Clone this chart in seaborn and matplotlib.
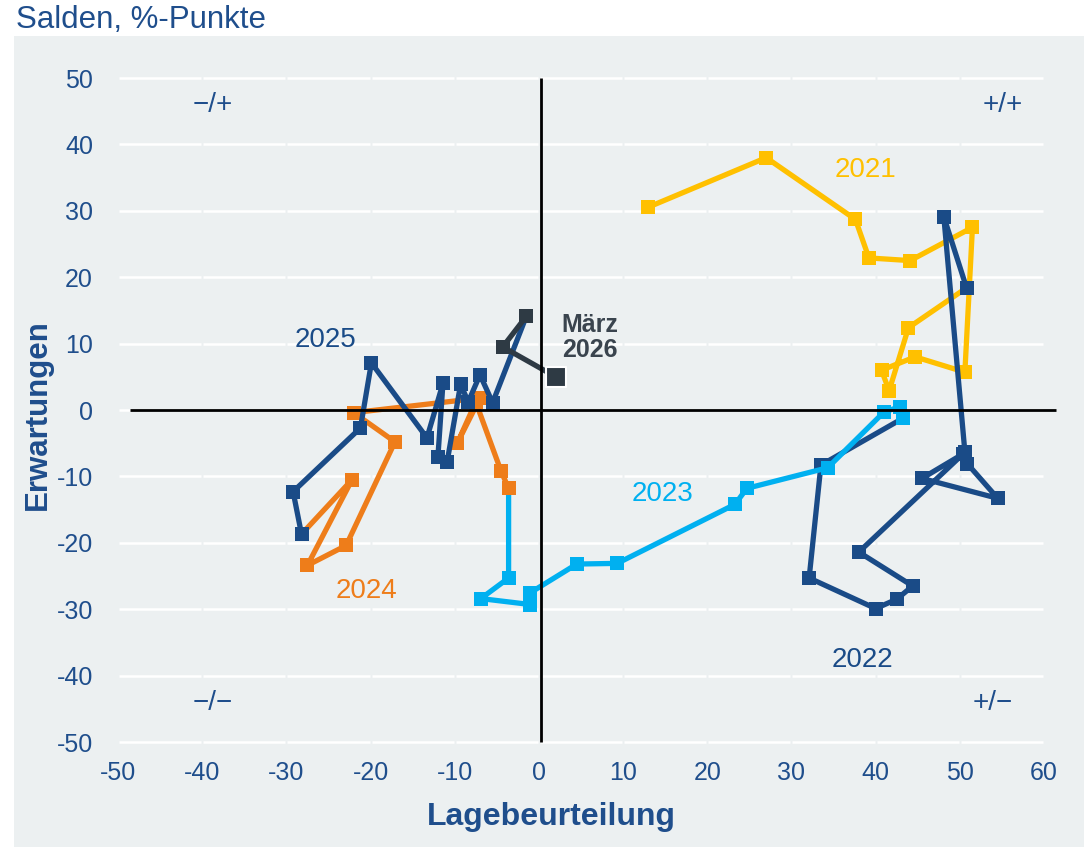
import matplotlib
matplotlib.use("Agg")
import numpy as np
import pandas as pd
import seaborn as sns
from matplotlib import pyplot as plt
from matplotlib.patches import Rectangle

## DATA ##
# Lagebeurteilung (x) und Erwartungen (y), Salden in %-Punkten
lage_2021 = [12.9, 27.0, 37.6, 39.2, 44.1, 51.5, 50.6, 44.7, 40.7, 41.6, 43.9, 50.8]
erw_2021 = [30.5, 38.0, 28.7, 22.9, 22.5, 27.5, 5.7, 8.0, 6.0, 2.9, 12.4, 18.4]

lage_2022 = [50.8, 48.1, 50.6, 50.9, 54.5, 45.5, 50.4, 38.0, 44.4, 42.5, 40.0, 32.1, 33.5, 43.3]
erw_2022 = [18.4, 29.1, -6.3, -8.1, -13.3, -10.3, -6.6, -21.4, -26.5, -28.5, -29.9, -25.3, -8.3, -1.2]

lage_2023 = [43.3, 42.9, 41.0, 34.3, 24.7, 23.3, 9.3, 4.5, -1.0, -1.0, -6.9, -3.6, -3.6]
erw_2023 = [-1.2, 0.5, -0.3, -8.7, -11.8, -14.2, -23.1, -23.2, -27.5, -29.3, -28.4, -25.3, -11.8]

lage_2024 = [-3.6, -4.5, -7.5, -9.7, -7.0, -22.0, -17.1, -22.9, -27.5, -22.2, -28.2]
erw_2024 = [-11.8, -9.2, 1.2, -5.0, 1.8, -0.4, -4.8, -20.4, -23.4, -10.5, -18.7]

lage_2025 = [-28.2, -29.2, -21.2, -19.9, -13.3, -11.4, -12.0, -10.9, -9.3, -8.4, -7.0, -5.5, -1.5]
erw_2025 = [-18.7, -12.3, -2.7, 7.1, -4.2, 4.0, -7.1, -7.8, 3.9, 1.2, 5.3, 1.1, 14.1]

lage_2026 = [-1.5, -4.3, 2.0]
erw_2026 = [14.1, 9.5, 5.0]

jahre = ["2021", "2022", "2023", "2024", "2025", "2026"]
farben = {"2021": "#FFC000", "2022": "#1A4B87", "2023": "#00B0F0",
          "2024": "#EE7D1A", "2025": "#1A4B87", "2026": "#2E3A44"}

x_ticks = list(range(-50, 61, 10))
y_ticks = list(range(-50, 51, 10))

# one long table, keep point order for sort=False
frames = []
for j, lx, ey in zip(jahre, [lage_2021, lage_2022, lage_2023, lage_2024, lage_2025, lage_2026],
                     [erw_2021, erw_2022, erw_2023, erw_2024, erw_2025, erw_2026]):
    frames.append(pd.DataFrame({"jahr": j, "lage": lx, "erw": ey}))
df = pd.concat(frames, ignore_index=True)

## STYLE ##
bg = "#ECF0F1"
txt_blue = "#1F4E8C"
sns.set_style("white", {"axes.facecolor": bg})
plt.rcParams["font.family"] = ["Liberation Sans", "DejaVu Sans"]
plt.rcParams["axes.unicode_minus"] = False

fig = plt.figure(figsize=(10.84, 8.47), dpi=100, facecolor="white")
fig.patches.append(Rectangle((14 / 1084, 0), 1, 1 - 36 / 847, transform=fig.transFigure,
                             facecolor=bg, edgecolor="none", zorder=-10))
ax = fig.add_axes([118 / 1084, 105 / 847, 926 / 1084, 664 / 847])
ax.set_zorder(1)
ax.set_facecolor(bg)

# gridlines with small breaks at each x tick
for yv in y_ticks:
    for a, b in zip(x_ticks[:-1], x_ticks[1:]):
        ax.hlines(yv, a + 0.12, b - 0.12, color="white", lw=1.8, zorder=1, clip_on=False)

## PLOT ##
sns.lineplot(data=df, x="lage", y="erw", hue="jahr", hue_order=jahre, palette=farben,
             sort=False, estimator=None, marker="s", markersize=10.5, markeredgewidth=0,
             linewidth=3.8, legend=False, ax=ax, zorder=3)

# last value (Maerz 2026) highlighted
last = df[df["jahr"] == "2026"].tail(1)
sns.scatterplot(data=last, x="lage", y="erw", marker="s", s=190, color=farben["2026"],
                edgecolor="white", linewidth=1.5, ax=ax, zorder=6, legend=False)

# axes cross
ax.vlines(0.3, -50, 50, color="black", lw=2.0, zorder=5, clip_on=False)
ax.hlines(0, -48.6, 61.4, color="black", lw=2.0, zorder=5, clip_on=False)

ax.set_xlim(-50, 60)
ax.set_ylim(-50, 50)
ax.set_xticks(x_ticks)
ax.set_yticks(y_ticks)
ax.tick_params(axis="both", length=0, labelsize=18, labelcolor=txt_blue)
ax.tick_params(axis="x", pad=14)
ax.tick_params(axis="y", pad=18)
sns.despine(ax=ax, left=True, bottom=True)
ax.set_xlabel("")
ax.set_ylabel("")

## LABELS ##
fig.text(16 / 1084, 1 - 20 / 847, "Salden, %-Punkte", fontsize=22.5, color=txt_blue, va="center")
fig.text(551 / 1084, 1 - 817 / 847, "Lagebeurteilung", fontsize=23, fontweight="bold",
         color=txt_blue, ha="center", va="center")
fig.text(38 / 1084, 1 - 415 / 847, "Erwartungen", fontsize=22.5, fontweight="bold",
         color=txt_blue, ha="center", va="center", rotation=90)

ax.text(38.8, 36.2, "2021", fontsize=20, color=farben["2021"], ha="center", va="center")
ax.text(38.4, -37.6, "2022", fontsize=20, color=farben["2022"], ha="center", va="center")
ax.text(14.7, -12.7, "2023", fontsize=20, color=farben["2023"], ha="center", va="center")
ax.text(-20.5, -27.3, "2024", fontsize=20, color=farben["2024"], ha="center", va="center")
ax.text(-25.3, 10.6, "2025", fontsize=20, color=farben["2025"], ha="center", va="center")
ax.text(2.7, 10.9, "März\n2026", fontsize=18, fontweight="bold", color="#3A444E",
        ha="left", va="center", linespacing=1.05)

for qx, qy, q in [(-38.8, 46.0, "\u2212/+"), (55.1, 46.0, "+/+"),
                  (-38.8, -44.2, "\u2212/\u2212"), (53.9, -44.2, "+/\u2212")]:
    ax.text(qx, qy, q, fontsize=20, color=txt_blue, ha="center", va="center")

fig.savefig("out.png", dpi=100, facecolor="white")
